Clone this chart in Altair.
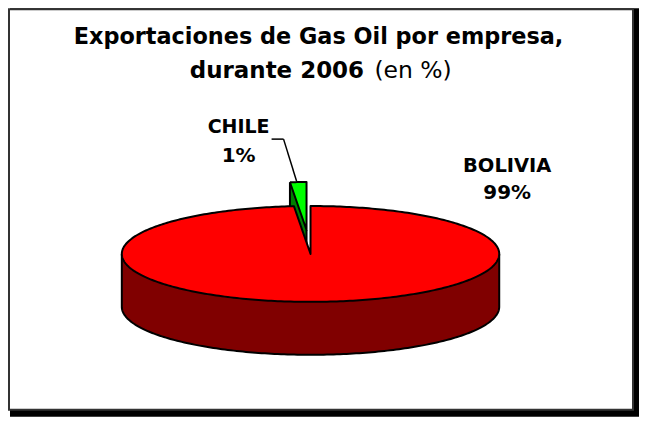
import math
import altair as alt
import pandas as pd

# Values
categories = ["BOLIVIA", "CHILE"]
shares = [98.6, 1.4]          # slice sizes as drawn
labels = ["99%", "1%"]
title_line1 = "Exportaciones de Gas Oil por empresa,"
title_line2_bold = "durante 2006"
title_line2_regular = "(en %)"

W, H = 632, 409
CX, CY, RX, RY, DEPTH = 311, 254, 189, 48, 53
DX, DY = -4, -24   # pull-out of the small slice
RED, DARK_RED, GREEN, DARK_GREEN = "#ff0000", "#800000", "#00ff00", "#008000"
FONT = "DejaVu Sans"

a = 2 * math.pi * shares[1] / sum(shares)


def table(xs, upper, lower=None):
    return pd.DataFrame({
        "i": range(len(xs)), "x": xs, "y": upper,
        "ylow": lower if lower is not None else upper,
    })


def rim(theta):
    return CX + RX * math.sin(theta), CY - RY * math.cos(theta)


left = [-math.pi / 2 + (math.pi / 2 - a) * k / 90 for k in range(91)]
right = [math.pi / 2 * k / 90 for k in range(91)]
notch_x, notch_y = rim(-a)


def low(x):
    return CY + RY * math.sqrt(max(0, 1 - ((x - CX) / RX) ** 2))


xs, up, lo = [], [], []
for t in left:
    x, y = rim(t)
    xs.append(x); up.append(y); lo.append(low(x))
for k in range(1, 21):
    f = k / 20
    x = notch_x + (CX - notch_x) * f
    xs.append(x); up.append(notch_y + (CY - notch_y) * f); lo.append(low(x))
for t in right:
    x, y = rim(t)
    x += 0.01  # keeps the notch's upright edge in order when the area is sorted by x
    xs.append(x); up.append(y); lo.append(low(x))
top_df = table(xs, up, lo)

wall_x = [CX + RX * math.sin(-math.pi / 2 + math.pi * k / 180) for k in range(181)]
wall_df = table(wall_x, [low(x) for x in wall_x], [low(x) + DEPTH for x in wall_x])

# Outlines
top_line = table(xs, up)
lower_line = table(wall_x, [low(x) for x in wall_x])
wall_line = table(
    [wall_x[0]] + wall_x + [wall_x[-1]],
    [CY] + [low(x) + DEPTH for x in wall_x] + [CY],
)

# Small slice
arc_t = [-a + a * k / 12 for k in range(13)]
arc_x = [rim(t)[0] + DX for t in arc_t]
arc_y = [rim(t)[1] + DY for t in arc_t]
apex_x, apex_y = CX + DX, CY + DY
diag = [arc_y[0] + (apex_y - arc_y[0]) * (x - arc_x[0]) / (apex_x - arc_x[0]) for x in arc_x]
chile_side_df = table(arc_x, arc_y, [d + DEPTH for d in diag])
chile_top_df = table(arc_x, arc_y, diag)
chile_top_line = table(arc_x + [apex_x, arc_x[0]], arc_y + [apex_y, arc_y[0]])
chile_side_line = table(
    [arc_x[0], arc_x[0], apex_x, apex_x],
    [arc_y[0], arc_y[0] + DEPTH, apex_y + DEPTH, apex_y],
)

xs_scale = alt.Scale(domain=[8, 8 + W], nice=False, zero=False)
ys_scale = alt.Scale(domain=[8 + H, 8], nice=False, zero=False)
X = alt.X("x:Q", scale=xs_scale, axis=None)
Y = alt.Y("y:Q", scale=ys_scale, axis=None)


def area(df, color):
    return alt.Chart(df).mark_area(fill=color, opacity=1, orient="vertical", interpolate="linear").encode(
        x=X, y=Y, y2=alt.Y2("ylow:Q"))


def line(df, width=2):
    return alt.Chart(df).mark_line(color="black", strokeWidth=width, strokeJoin="round").encode(
        x=X, y=Y, order="i:Q")


def rect(x1, x2, y1, y2, **kw):
    base = pd.DataFrame({"k": [0]})
    return alt.Chart(base).mark_rect(**kw).encode(
        x=alt.value(x1 - 8), x2=alt.value(x2 - 8), y=alt.value(y1 - 8), y2=alt.value(y2 - 8))


def rule(x1, y1, x2, y2):
    base = pd.DataFrame({"k": [0]})
    return alt.Chart(base).mark_rule(color="black", strokeWidth=1.5).encode(
        x=alt.value(x1 - 8), x2=alt.value(x2 - 8), y=alt.value(y1 - 8), y2=alt.value(y2 - 8))


def text(s, x, y, size, weight="bold", align="center"):
    base = pd.DataFrame({"t": [s]})
    return alt.Chart(base).mark_text(
        font=FONT, fontSize=size, fontWeight=weight, align=align, baseline="alphabetic", color="black"
    ).encode(x=alt.value(x - 8), y=alt.value(y - 8), text="t:N")


layers = [
    rect(10, 640, 8, 417, fill="black"),
    rect(9, 634, 9, 410, fill="white", stroke="#333333", strokeWidth=2),
    area(chile_side_df, DARK_GREEN), line(chile_side_line),
    area(chile_top_df, GREEN), line(chile_top_line),
    area(wall_df, DARK_RED), line(wall_line),
    area(top_df, RED), line(top_line), line(lower_line),
    rule(272, 139, 284, 139), rule(284, 139, 297, 181),
    text(title_line1, 319, 44, 22.4),
    text(title_line2_bold, 190, 78, 23, align="left"),
    text(title_line2_regular, 375, 78, 23.5, weight="normal", align="left"),
    text(categories[0], 508, 172, 19.5),
    text(labels[0], 508, 199, 20),
    text(categories[1], 239, 133, 19),
    text(labels[1], 239, 162, 20),
]

chart = alt.layer(*layers).properties(
    width=W, height=H, padding=0, autosize=alt.AutoSizeParams(type="none"),
    background="white",
).configure_view(stroke=None)

chart.save("out.html", embed_options={"renderer": "svg", "actions": False})
